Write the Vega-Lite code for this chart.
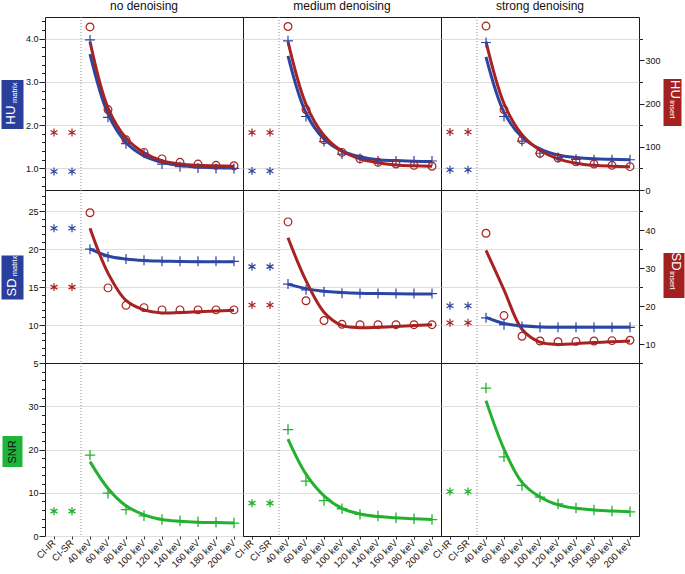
{
"$schema":"https://vega.github.io/schema/vega-lite/v6.json",
"background":"white",
"padding":{"left":-24,"top":-1,"right":0,"bottom":0},
"autosize":{"type":"pad"},
"config":{"view":{"stroke":"#1a1a1a","strokeWidth":1},"font":"Liberation Sans","axis":{"labelFont":"Liberation Sans","titleFont":"Liberation Sans","minExtent":0},"axisY":{"minExtent":0},"axisX":{"minExtent":0},"title":{"font":"Liberation Sans"}},
"columns":3,"spacing":0,"bounds":"flush",
"datasets":{"t":[
{"d":"n","m":"HUm","x":"CI-IR","p":0.93,"f":null},{"d":"n","m":"HUm","x":"CI-SR","p":0.93,"f":null},{"d":"n","m":"HUm","x":"40 keV","p":3.97,"f":3.64},{"d":"n","m":"HUm","x":"60 keV","p":2.18,"f":2.26},{"d":"n","m":"HUm","x":"80 keV","p":1.57,"f":1.6},{"d":"n","m":"HUm","x":"100 keV","p":1.35,"f":1.29},{"d":"n","m":"HUm","x":"120 keV","p":1.1,"f":1.14},{"d":"n","m":"HUm","x":"140 keV","p":1.04,"f":1.065},{"d":"n","m":"HUm","x":"160 keV","p":1.01,"f":1.03},{"d":"n","m":"HUm","x":"180 keV","p":1.0,"f":1.015},{"d":"n","m":"HUm","x":"200 keV","p":1.0,"f":1.007},
{"d":"m","m":"HUm","x":"CI-IR","p":0.94,"f":null},{"d":"m","m":"HUm","x":"CI-SR","p":0.94,"f":null},{"d":"m","m":"HUm","x":"40 keV","p":3.95,"f":3.6},{"d":"m","m":"HUm","x":"60 keV","p":2.2,"f":2.28},{"d":"m","m":"HUm","x":"80 keV","p":1.62,"f":1.68},{"d":"m","m":"HUm","x":"100 keV","p":1.33,"f":1.4},{"d":"m","m":"HUm","x":"120 keV","p":1.23,"f":1.27},{"d":"m","m":"HUm","x":"140 keV","p":1.17,"f":1.2},{"d":"m","m":"HUm","x":"160 keV","p":1.17,"f":1.18},{"d":"m","m":"HUm","x":"180 keV","p":1.17,"f":1.165},{"d":"m","m":"HUm","x":"200 keV","p":1.17,"f":1.16},
{"d":"s","m":"HUm","x":"CI-IR","p":0.97,"f":null},{"d":"s","m":"HUm","x":"CI-SR","p":0.97,"f":null},{"d":"s","m":"HUm","x":"40 keV","p":3.91,"f":3.58},{"d":"s","m":"HUm","x":"60 keV","p":2.2,"f":2.3},{"d":"s","m":"HUm","x":"80 keV","p":1.63,"f":1.72},{"d":"s","m":"HUm","x":"100 keV","p":1.35,"f":1.45},{"d":"s","m":"HUm","x":"120 keV","p":1.25,"f":1.31},{"d":"s","m":"HUm","x":"140 keV","p":1.21,"f":1.25},{"d":"s","m":"HUm","x":"160 keV","p":1.2,"f":1.22},{"d":"s","m":"HUm","x":"180 keV","p":1.2,"f":1.21},{"d":"s","m":"HUm","x":"200 keV","p":1.2,"f":1.2},
{"d":"n","m":"HUi","x":"CI-IR","p":133,"f":null},{"d":"n","m":"HUi","x":"CI-SR","p":133,"f":null},{"d":"n","m":"HUi","x":"40 keV","p":377,"f":343},{"d":"n","m":"HUi","x":"60 keV","p":186,"f":190},{"d":"n","m":"HUi","x":"80 keV","p":116,"f":120},{"d":"n","m":"HUi","x":"100 keV","p":87,"f":86},{"d":"n","m":"HUi","x":"120 keV","p":72,"f":68},{"d":"n","m":"HUi","x":"140 keV","p":64,"f":60},{"d":"n","m":"HUi","x":"160 keV","p":60,"f":57},{"d":"n","m":"HUi","x":"180 keV","p":57,"f":56},{"d":"n","m":"HUi","x":"200 keV","p":56,"f":55},
{"d":"m","m":"HUi","x":"CI-IR","p":133,"f":null},{"d":"m","m":"HUi","x":"CI-SR","p":133,"f":null},{"d":"m","m":"HUi","x":"40 keV","p":378,"f":343},{"d":"m","m":"HUi","x":"60 keV","p":186,"f":198},{"d":"m","m":"HUi","x":"80 keV","p":116,"f":126},{"d":"m","m":"HUi","x":"100 keV","p":87,"f":90},{"d":"m","m":"HUi","x":"120 keV","p":72,"f":72},{"d":"m","m":"HUi","x":"140 keV","p":64,"f":63},{"d":"m","m":"HUi","x":"160 keV","p":60,"f":58},{"d":"m","m":"HUi","x":"180 keV","p":57,"f":56},{"d":"m","m":"HUi","x":"200 keV","p":55,"f":55},
{"d":"s","m":"HUi","x":"CI-IR","p":134,"f":null},{"d":"s","m":"HUi","x":"CI-SR","p":134,"f":null},{"d":"s","m":"HUi","x":"40 keV","p":379,"f":343},{"d":"s","m":"HUi","x":"60 keV","p":186,"f":200},{"d":"s","m":"HUi","x":"80 keV","p":116,"f":128},{"d":"s","m":"HUi","x":"100 keV","p":85,"f":92},{"d":"s","m":"HUi","x":"120 keV","p":74,"f":72},{"d":"s","m":"HUi","x":"140 keV","p":65,"f":62},{"d":"s","m":"HUi","x":"160 keV","p":60,"f":57},{"d":"s","m":"HUi","x":"180 keV","p":57,"f":55},{"d":"s","m":"HUi","x":"200 keV","p":54,"f":54},
{"d":"n","m":"SDm","x":"CI-IR","p":22.76,"f":null},{"d":"n","m":"SDm","x":"CI-SR","p":22.76,"f":null},{"d":"n","m":"SDm","x":"40 keV","p":20.0,"f":20.05},{"d":"n","m":"SDm","x":"60 keV","p":19.0,"f":19.1},{"d":"n","m":"SDm","x":"80 keV","p":18.7,"f":18.7},{"d":"n","m":"SDm","x":"100 keV","p":18.55,"f":18.5},{"d":"n","m":"SDm","x":"120 keV","p":18.4,"f":18.42},{"d":"n","m":"SDm","x":"140 keV","p":18.4,"f":18.38},{"d":"n","m":"SDm","x":"160 keV","p":18.4,"f":18.36},{"d":"n","m":"SDm","x":"180 keV","p":18.4,"f":18.35},{"d":"n","m":"SDm","x":"200 keV","p":18.4,"f":18.35},
{"d":"m","m":"SDm","x":"CI-IR","p":17.7,"f":null},{"d":"m","m":"SDm","x":"CI-SR","p":17.7,"f":null},{"d":"m","m":"SDm","x":"40 keV","p":15.4,"f":15.4},{"d":"m","m":"SDm","x":"60 keV","p":14.64,"f":14.8},{"d":"m","m":"SDm","x":"80 keV","p":14.4,"f":14.45},{"d":"m","m":"SDm","x":"100 keV","p":14.2,"f":14.3},{"d":"m","m":"SDm","x":"120 keV","p":14.15,"f":14.2},{"d":"m","m":"SDm","x":"140 keV","p":14.15,"f":14.15},{"d":"m","m":"SDm","x":"160 keV","p":14.15,"f":14.12},{"d":"m","m":"SDm","x":"180 keV","p":14.15,"f":14.1},{"d":"m","m":"SDm","x":"200 keV","p":14.15,"f":14.1},
{"d":"s","m":"SDm","x":"CI-IR","p":12.55,"f":null},{"d":"s","m":"SDm","x":"CI-SR","p":12.55,"f":null},{"d":"s","m":"SDm","x":"40 keV","p":10.95,"f":11.0},{"d":"s","m":"SDm","x":"60 keV","p":10.05,"f":10.2},{"d":"s","m":"SDm","x":"80 keV","p":9.8,"f":9.9},{"d":"s","m":"SDm","x":"100 keV","p":9.7,"f":9.75},{"d":"s","m":"SDm","x":"120 keV","p":9.7,"f":9.7},{"d":"s","m":"SDm","x":"140 keV","p":9.7,"f":9.7},{"d":"s","m":"SDm","x":"160 keV","p":9.7,"f":9.7},{"d":"s","m":"SDm","x":"180 keV","p":9.7,"f":9.7},{"d":"s","m":"SDm","x":"200 keV","p":9.7,"f":9.7},
{"d":"n","m":"SDi","x":"CI-IR","p":25,"f":null},{"d":"n","m":"SDi","x":"CI-SR","p":25,"f":null},{"d":"n","m":"SDi","x":"40 keV","p":44.6,"f":40.5},{"d":"n","m":"SDi","x":"60 keV","p":24.8,"f":28.7},{"d":"n","m":"SDi","x":"80 keV","p":20.2,"f":21.5},{"d":"n","m":"SDi","x":"100 keV","p":19.6,"f":19.0},{"d":"n","m":"SDi","x":"120 keV","p":19.0,"f":18.2},{"d":"n","m":"SDi","x":"140 keV","p":19.0,"f":18.3},{"d":"n","m":"SDi","x":"160 keV","p":19.0,"f":18.5},{"d":"n","m":"SDi","x":"180 keV","p":19.0,"f":18.7},{"d":"n","m":"SDi","x":"200 keV","p":19.0,"f":18.9},
{"d":"m","m":"SDi","x":"CI-IR","p":20.3,"f":null},{"d":"m","m":"SDi","x":"CI-SR","p":20.3,"f":null},{"d":"m","m":"SDi","x":"40 keV","p":42.2,"f":38.0},{"d":"m","m":"SDi","x":"60 keV","p":21.4,"f":26.7},{"d":"m","m":"SDi","x":"80 keV","p":16.2,"f":18.4},{"d":"m","m":"SDi","x":"100 keV","p":15.2,"f":14.9},{"d":"m","m":"SDi","x":"120 keV","p":15.1,"f":14.3},{"d":"m","m":"SDi","x":"140 keV","p":15.1,"f":14.4},{"d":"m","m":"SDi","x":"160 keV","p":15.1,"f":14.6},{"d":"m","m":"SDi","x":"180 keV","p":15.1,"f":14.9},{"d":"m","m":"SDi","x":"200 keV","p":15.1,"f":15.1},
{"d":"s","m":"SDi","x":"CI-IR","p":15.6,"f":null},{"d":"s","m":"SDi","x":"CI-SR","p":15.6,"f":null},{"d":"s","m":"SDi","x":"40 keV","p":39.2,"f":34.7},{"d":"s","m":"SDi","x":"60 keV","p":17.5,"f":24.3},{"d":"s","m":"SDi","x":"80 keV","p":12.05,"f":13.9},{"d":"s","m":"SDi","x":"100 keV","p":10.8,"f":10.5},{"d":"s","m":"SDi","x":"120 keV","p":10.6,"f":9.9},{"d":"s","m":"SDi","x":"140 keV","p":10.7,"f":10.1},{"d":"s","m":"SDi","x":"160 keV","p":10.8,"f":10.4},{"d":"s","m":"SDi","x":"180 keV","p":10.9,"f":10.6},{"d":"s","m":"SDi","x":"200 keV","p":11.0,"f":10.8},
{"d":"n","m":"SNR","x":"CI-IR","p":5.75,"f":null},{"d":"n","m":"SNR","x":"CI-SR","p":5.75,"f":null},{"d":"n","m":"SNR","x":"40 keV","p":18.7,"f":17.2},{"d":"n","m":"SNR","x":"60 keV","p":9.9,"f":11.0},{"d":"n","m":"SNR","x":"80 keV","p":6.1,"f":7.0},{"d":"n","m":"SNR","x":"100 keV","p":4.67,"f":4.9},{"d":"n","m":"SNR","x":"120 keV","p":3.8,"f":3.8},{"d":"n","m":"SNR","x":"140 keV","p":3.5,"f":3.4},{"d":"n","m":"SNR","x":"160 keV","p":3.3,"f":3.2},{"d":"n","m":"SNR","x":"180 keV","p":3.2,"f":3.1},{"d":"n","m":"SNR","x":"200 keV","p":3.0,"f":3.0},
{"d":"m","m":"SNR","x":"CI-IR","p":7.6,"f":null},{"d":"m","m":"SNR","x":"CI-SR","p":7.6,"f":null},{"d":"m","m":"SNR","x":"40 keV","p":24.6,"f":22.4},{"d":"m","m":"SNR","x":"60 keV","p":12.7,"f":14.3},{"d":"m","m":"SNR","x":"80 keV","p":8.2,"f":9.3},{"d":"m","m":"SNR","x":"100 keV","p":6.3,"f":6.4},{"d":"m","m":"SNR","x":"120 keV","p":5.0,"f":5.1},{"d":"m","m":"SNR","x":"140 keV","p":4.6,"f":4.5},{"d":"m","m":"SNR","x":"160 keV","p":4.2,"f":4.2},{"d":"m","m":"SNR","x":"180 keV","p":4.0,"f":4.0},{"d":"m","m":"SNR","x":"200 keV","p":3.8,"f":3.8},
{"d":"s","m":"SNR","x":"CI-IR","p":10.3,"f":null},{"d":"s","m":"SNR","x":"CI-SR","p":10.3,"f":null},{"d":"s","m":"SNR","x":"40 keV","p":34.2,"f":31.3},{"d":"s","m":"SNR","x":"60 keV","p":18.3,"f":20.1},{"d":"s","m":"SNR","x":"80 keV","p":11.7,"f":12.4},{"d":"s","m":"SNR","x":"100 keV","p":9.0,"f":9.0},{"d":"s","m":"SNR","x":"120 keV","p":7.4,"f":7.2},{"d":"s","m":"SNR","x":"140 keV","p":6.5,"f":6.4},{"d":"s","m":"SNR","x":"160 keV","p":6.0,"f":6.0},{"d":"s","m":"SNR","x":"180 keV","p":5.8,"f":5.8},{"d":"s","m":"SNR","x":"200 keV","p":5.6,"f":5.6}
]},
"concat":[
{"width":198,"height":173,
"title":{"text":"no denoising","frame":"group","anchor":"middle","offset":-5,"baseline":"alphabetic","fontSize":12,"fontWeight":"normal","color":"#111"},
"data":{"name":"t"},"transform":[{"filter":"datum.d==='n'"}],
"encoding":{"x":{"field":"x","type":"nominal","scale":{"type":"band","domain":["CI-IR","CI-SR","40 keV","60 keV","80 keV","100 keV","120 keV","140 keV","160 keV","180 keV","200 keV"],"paddingInner":0,"paddingOuter":0},"axis":null,"bandPosition":0.5}},
"layer":[
{"transform":[{"filter":"datum.m==='HUm' && datum.x==='40 keV'"}],"mark":{"type":"rule","color":"#8c8c8c","strokeDash":[1,2],"strokeWidth":1},"encoding":{"x":{"field":"x","type":"nominal","axis":null,"bandPosition":0}}},
{"transform":[{"filter":"datum.m==='HUm'"}],"mark":{"type":"line","color":"#2c45a2","strokeWidth":3,"interpolate":"catmull-rom"},"encoding":{"y":{"field":"f","type":"quantitative","scale":{"domain":[0.5,4.5],"nice":false,"zero":false},"axis":{"orient":"left","minExtent":0,"values":[0.6,0.8,1,1.2,1.4,1.6,1.8,2,2.2,2.4,2.6,2.8,3,3.2,3.4,3.6,3.8,4,4.2,4.4],"labelExpr":"datum.value % 1 === 0 ? format(datum.value, '.1f') : ''","labelOverlap":false,"labelFontSize":9,"labelColor":"#111","labelPadding":1,"tickColor":"#222","tickSize":{"condition":{"test":"datum.value % 1 === 0","value":6},"value":3.5},"grid":true,"gridColor":"#dddddd","gridOpacity":{"condition":{"test":"datum.value % 1 === 0","value":1},"value":0},"domain":false,"title":null}}}},
{"transform":[{"filter":"datum.m==='HUi'"}],"mark":{"type":"line","color":"#a62322","strokeWidth":3,"interpolate":"catmull-rom"},"encoding":{"y":{"field":"f","type":"quantitative","scale":{"domain":[0,400],"nice":false,"zero":false},"axis":{"orient":"left","minExtent":0,"offset":22,"values":[200],"tickSize":22,"tickWidth":49,"tickColor":"#2a3f9c","tickCap":"butt","labels":false,"domain":false,"grid":false,"title":"HU","titleColor":"#ffffff","titleFontSize":13,"titleFontWeight":"normal","titleAngle":-90,"titleAlign":"center","titleBaseline":"middle","titleX":-12.7,"titleY":97.5}}}},
{"transform":[{"filter":"datum.m==='HUm'"}],"mark":{"type":"point","filled":false,"strokeWidth":1.2,"color":"#2c45a2","opacity":1},"encoding":{"y":{"field":"p","type":"quantitative","scale":{"domain":[0.5,4.5],"nice":false,"zero":false},"axis":null},"shape":{"condition":{"test":"datum.x==='CI-IR'||datum.x==='CI-SR'","value":"M0,-1V1M-0.87,-0.5L0.87,0.5M-0.87,0.5L0.87,-0.5"},"value":"M-1,0H1M0,-1V1"},"size":{"condition":{"test":"datum.x==='CI-IR'||datum.x==='CI-SR'","value":64},"value":100}}},
{"transform":[{"filter":"datum.m==='HUi'"}],"mark":{"type":"point","filled":false,"strokeWidth":1.2,"color":"#a62322","opacity":1},"encoding":{"y":{"field":"p","type":"quantitative","scale":{"domain":[0,400],"nice":false,"zero":false},"axis":{"orient":"left","minExtent":0,"offset":22,"values":[200],"ticks":false,"labels":false,"domain":false,"grid":false,"zindex":1,"title":"matrix","titleColor":"#ffffff","titleFontSize":7.5,"titleFontWeight":"normal","titleAngle":-90,"titleAlign":"center","titleBaseline":"middle","titleX":-9,"titleY":75.3}},"shape":{"condition":{"test":"datum.x==='CI-IR'||datum.x==='CI-SR'","value":"M0,-1V1M-0.87,-0.5L0.87,0.5M-0.87,0.5L0.87,-0.5"},"value":"circle"},"size":{"condition":{"test":"datum.x==='CI-IR'||datum.x==='CI-SR'","value":64},"value":60}}}
],
"resolve":{"scale":{"y":"independent"}}},

{"width":198,"height":173,
"title":{"text":"medium denoising","frame":"group","anchor":"middle","offset":-5,"baseline":"alphabetic","fontSize":12,"fontWeight":"normal","color":"#111"},
"data":{"name":"t"},"transform":[{"filter":"datum.d==='m'"}],
"encoding":{"x":{"field":"x","type":"nominal","scale":{"type":"band","domain":["CI-IR","CI-SR","40 keV","60 keV","80 keV","100 keV","120 keV","140 keV","160 keV","180 keV","200 keV"],"paddingInner":0,"paddingOuter":0},"axis":null,"bandPosition":0.5}},
"layer":[
{"transform":[{"filter":"datum.m==='HUm' && datum.x==='40 keV'"}],"mark":{"type":"rule","color":"#8c8c8c","strokeDash":[1,2],"strokeWidth":1},"encoding":{"x":{"field":"x","type":"nominal","axis":null,"bandPosition":0}}},
{"transform":[{"filter":"datum.m==='HUm'"}],"mark":{"type":"line","color":"#2c45a2","strokeWidth":3,"interpolate":"catmull-rom"},"encoding":{"y":{"field":"f","type":"quantitative","scale":{"domain":[0.5,4.5],"nice":false,"zero":false},"axis":{"orient":"left","minExtent":0,"values":[1,2,3,4],"grid":true,"gridColor":"#dddddd","labels":false,"ticks":false,"domain":false,"title":null}}}},
{"transform":[{"filter":"datum.m==='HUi'"}],"mark":{"type":"line","color":"#a62322","strokeWidth":3,"interpolate":"catmull-rom"},"encoding":{"y":{"field":"f","type":"quantitative","scale":{"domain":[0,400],"nice":false,"zero":false},"axis":null}}},
{"transform":[{"filter":"datum.m==='HUm'"}],"mark":{"type":"point","filled":false,"strokeWidth":1.2,"color":"#2c45a2","opacity":1},"encoding":{"y":{"field":"p","type":"quantitative","scale":{"domain":[0.5,4.5],"nice":false,"zero":false},"axis":null},"shape":{"condition":{"test":"datum.x==='CI-IR'||datum.x==='CI-SR'","value":"M0,-1V1M-0.87,-0.5L0.87,0.5M-0.87,0.5L0.87,-0.5"},"value":"M-1,0H1M0,-1V1"},"size":{"condition":{"test":"datum.x==='CI-IR'||datum.x==='CI-SR'","value":64},"value":100}}},
{"transform":[{"filter":"datum.m==='HUi'"}],"mark":{"type":"point","filled":false,"strokeWidth":1.2,"color":"#a62322","opacity":1},"encoding":{"y":{"field":"p","type":"quantitative","scale":{"domain":[0,400],"nice":false,"zero":false},"axis":null},"shape":{"condition":{"test":"datum.x==='CI-IR'||datum.x==='CI-SR'","value":"M0,-1V1M-0.87,-0.5L0.87,0.5M-0.87,0.5L0.87,-0.5"},"value":"circle"},"size":{"condition":{"test":"datum.x==='CI-IR'||datum.x==='CI-SR'","value":64},"value":60}}}
],
"resolve":{"scale":{"y":"independent"}}},

{"width":198,"height":173,
"title":{"text":"strong denoising","frame":"group","anchor":"middle","offset":-5,"baseline":"alphabetic","fontSize":12,"fontWeight":"normal","color":"#111"},
"data":{"name":"t"},"transform":[{"filter":"datum.d==='s'"}],
"encoding":{"x":{"field":"x","type":"nominal","scale":{"type":"band","domain":["CI-IR","CI-SR","40 keV","60 keV","80 keV","100 keV","120 keV","140 keV","160 keV","180 keV","200 keV"],"paddingInner":0,"paddingOuter":0},"axis":null,"bandPosition":0.5}},
"layer":[
{"transform":[{"filter":"datum.m==='HUm' && datum.x==='40 keV'"}],"mark":{"type":"rule","color":"#8c8c8c","strokeDash":[1,2],"strokeWidth":1},"encoding":{"x":{"field":"x","type":"nominal","axis":null,"bandPosition":0}}},
{"transform":[{"filter":"datum.m==='HUm'"}],"mark":{"type":"line","color":"#2c45a2","strokeWidth":3,"interpolate":"catmull-rom"},"encoding":{"y":{"field":"f","type":"quantitative","scale":{"domain":[0.5,4.5],"nice":false,"zero":false},"axis":{"orient":"right","minExtent":0,"offset":24,"values":[2.546],"ticks":false,"labels":false,"domain":false,"grid":false,"zindex":1,"title":"insert","titleColor":"#ffffff","titleFontSize":7.5,"titleFontWeight":"normal","titleAngle":90,"titleAlign":"center","titleBaseline":"middle","titleX":8,"titleY":92}}}},
{"transform":[{"filter":"datum.m==='HUi'"}],"mark":{"type":"line","color":"#a62322","strokeWidth":3,"interpolate":"catmull-rom"},"encoding":{"y":{"field":"f","type":"quantitative","scale":{"domain":[0,400],"nice":false,"zero":false},"axis":{"orient":"right","minExtent":0,"values":[0,50,100,150,200,250,300,350],"labelExpr":"datum.value % 100 === 0 ? datum.label : ''","labelOverlap":false,"labelFontSize":9,"labelColor":"#111","labelPadding":1,"tickColor":"#222","tickSize":{"condition":{"test":"datum.value % 100 === 0","value":5},"value":3.5},"grid":true,"gridColor":"#dddddd","gridOpacity":{"condition":{"test":"datum.value % 100 === 50","value":1},"value":0},"domain":false,"title":null}}}},
{"transform":[{"filter":"datum.m==='HUm'"}],"mark":{"type":"point","filled":false,"strokeWidth":1.2,"color":"#2c45a2","opacity":1},"encoding":{"y":{"field":"p","type":"quantitative","scale":{"domain":[0.5,4.5],"nice":false,"zero":false},"axis":{"orient":"right","minExtent":0,"offset":24,"values":[2.546],"tickSize":18,"tickWidth":47,"tickColor":"#a32020","tickCap":"butt","labels":false,"domain":false,"grid":false,"title":"HU","titleColor":"#ffffff","titleFontSize":13,"titleFontWeight":"normal","titleAngle":90,"titleAlign":"center","titleBaseline":"middle","titleX":11,"titleY":72}},"shape":{"condition":{"test":"datum.x==='CI-IR'||datum.x==='CI-SR'","value":"M0,-1V1M-0.87,-0.5L0.87,0.5M-0.87,0.5L0.87,-0.5"},"value":"M-1,0H1M0,-1V1"},"size":{"condition":{"test":"datum.x==='CI-IR'||datum.x==='CI-SR'","value":64},"value":100}}},
{"transform":[{"filter":"datum.m==='HUi'"}],"mark":{"type":"point","filled":false,"strokeWidth":1.2,"color":"#a62322","opacity":1},"encoding":{"y":{"field":"p","type":"quantitative","scale":{"domain":[0,400],"nice":false,"zero":false},"axis":null},"shape":{"condition":{"test":"datum.x==='CI-IR'||datum.x==='CI-SR'","value":"M0,-1V1M-0.87,-0.5L0.87,0.5M-0.87,0.5L0.87,-0.5"},"value":"circle"},"size":{"condition":{"test":"datum.x==='CI-IR'||datum.x==='CI-SR'","value":64},"value":60}}}
],
"resolve":{"scale":{"y":"independent"}}},

{"width":198,"height":173,
"data":{"name":"t"},"transform":[{"filter":"datum.d==='n'"}],
"encoding":{"x":{"field":"x","type":"nominal","scale":{"type":"band","domain":["CI-IR","CI-SR","40 keV","60 keV","80 keV","100 keV","120 keV","140 keV","160 keV","180 keV","200 keV"],"paddingInner":0,"paddingOuter":0},"axis":null,"bandPosition":0.5}},
"layer":[
{"transform":[{"filter":"datum.m==='SDm' && datum.x==='40 keV'"}],"mark":{"type":"rule","color":"#8c8c8c","strokeDash":[1,2],"strokeWidth":1},"encoding":{"x":{"field":"x","type":"nominal","axis":null,"bandPosition":0}}},
{"transform":[{"filter":"datum.m==='SDm'"}],"mark":{"type":"line","color":"#2c45a2","strokeWidth":3,"interpolate":"catmull-rom"},"encoding":{"y":{"field":"f","type":"quantitative","scale":{"domain":[5,27.8],"nice":false,"zero":false},"axis":{"orient":"left","minExtent":0,"values":[5,6,7,8,9,10,11,12,13,14,15,16,17,18,19,20,21,22,23,24,25,26,27],"labelExpr":"datum.value % 5 === 0 ? datum.label : ''","labelOverlap":false,"labelFontSize":9,"labelColor":"#111","labelPadding":1,"tickColor":"#222","tickSize":{"condition":{"test":"datum.value % 5 === 0","value":6},"value":3.5},"grid":true,"gridColor":"#dddddd","gridOpacity":{"condition":{"test":"datum.value % 5 === 0","value":1},"value":0},"domain":false,"title":null}}}},
{"transform":[{"filter":"datum.m==='SDi'"}],"mark":{"type":"line","color":"#a62322","strokeWidth":3,"interpolate":"catmull-rom"},"encoding":{"y":{"field":"f","type":"quantitative","scale":{"domain":[5,50.6],"nice":false,"zero":false},"axis":{"orient":"left","minExtent":0,"offset":22,"values":[27.67],"tickSize":22,"tickWidth":44,"tickColor":"#2a3f9c","tickCap":"butt","labels":false,"domain":false,"grid":false,"title":"SD","titleColor":"#ffffff","titleFontSize":13,"titleFontWeight":"normal","titleAngle":-90,"titleAlign":"center","titleBaseline":"middle","titleX":-12,"titleY":97}}}},
{"transform":[{"filter":"datum.m==='SDm'"}],"mark":{"type":"point","filled":false,"strokeWidth":1.2,"color":"#2c45a2","opacity":1},"encoding":{"y":{"field":"p","type":"quantitative","scale":{"domain":[5,27.8],"nice":false,"zero":false},"axis":null},"shape":{"condition":{"test":"datum.x==='CI-IR'||datum.x==='CI-SR'","value":"M0,-1V1M-0.87,-0.5L0.87,0.5M-0.87,0.5L0.87,-0.5"},"value":"M-1,0H1M0,-1V1"},"size":{"condition":{"test":"datum.x==='CI-IR'||datum.x==='CI-SR'","value":64},"value":100}}},
{"transform":[{"filter":"datum.m==='SDi'"}],"mark":{"type":"point","filled":false,"strokeWidth":1.2,"color":"#a62322","opacity":1},"encoding":{"y":{"field":"p","type":"quantitative","scale":{"domain":[5,50.6],"nice":false,"zero":false},"axis":{"orient":"left","minExtent":0,"offset":22,"values":[27.67],"ticks":false,"labels":false,"domain":false,"grid":false,"zindex":1,"title":"matrix","titleColor":"#ffffff","titleFontSize":7.5,"titleFontWeight":"normal","titleAngle":-90,"titleAlign":"center","titleBaseline":"middle","titleX":-8.5,"titleY":75.5}},"shape":{"condition":{"test":"datum.x==='CI-IR'||datum.x==='CI-SR'","value":"M0,-1V1M-0.87,-0.5L0.87,0.5M-0.87,0.5L0.87,-0.5"},"value":"circle"},"size":{"condition":{"test":"datum.x==='CI-IR'||datum.x==='CI-SR'","value":64},"value":60}}}
],
"resolve":{"scale":{"y":"independent"}}},

{"width":198,"height":173,
"data":{"name":"t"},"transform":[{"filter":"datum.d==='m'"}],
"encoding":{"x":{"field":"x","type":"nominal","scale":{"type":"band","domain":["CI-IR","CI-SR","40 keV","60 keV","80 keV","100 keV","120 keV","140 keV","160 keV","180 keV","200 keV"],"paddingInner":0,"paddingOuter":0},"axis":null,"bandPosition":0.5}},
"layer":[
{"transform":[{"filter":"datum.m==='SDm' && datum.x==='40 keV'"}],"mark":{"type":"rule","color":"#8c8c8c","strokeDash":[1,2],"strokeWidth":1},"encoding":{"x":{"field":"x","type":"nominal","axis":null,"bandPosition":0}}},
{"transform":[{"filter":"datum.m==='SDm'"}],"mark":{"type":"line","color":"#2c45a2","strokeWidth":3,"interpolate":"catmull-rom"},"encoding":{"y":{"field":"f","type":"quantitative","scale":{"domain":[5,27.8],"nice":false,"zero":false},"axis":{"orient":"left","minExtent":0,"values":[10,15,20,25],"grid":true,"gridColor":"#dddddd","labels":false,"ticks":false,"domain":false,"title":null}}}},
{"transform":[{"filter":"datum.m==='SDi'"}],"mark":{"type":"line","color":"#a62322","strokeWidth":3,"interpolate":"catmull-rom"},"encoding":{"y":{"field":"f","type":"quantitative","scale":{"domain":[5,50.6],"nice":false,"zero":false},"axis":null}}},
{"transform":[{"filter":"datum.m==='SDm'"}],"mark":{"type":"point","filled":false,"strokeWidth":1.2,"color":"#2c45a2","opacity":1},"encoding":{"y":{"field":"p","type":"quantitative","scale":{"domain":[5,27.8],"nice":false,"zero":false},"axis":null},"shape":{"condition":{"test":"datum.x==='CI-IR'||datum.x==='CI-SR'","value":"M0,-1V1M-0.87,-0.5L0.87,0.5M-0.87,0.5L0.87,-0.5"},"value":"M-1,0H1M0,-1V1"},"size":{"condition":{"test":"datum.x==='CI-IR'||datum.x==='CI-SR'","value":64},"value":100}}},
{"transform":[{"filter":"datum.m==='SDi'"}],"mark":{"type":"point","filled":false,"strokeWidth":1.2,"color":"#a62322","opacity":1},"encoding":{"y":{"field":"p","type":"quantitative","scale":{"domain":[5,50.6],"nice":false,"zero":false},"axis":null},"shape":{"condition":{"test":"datum.x==='CI-IR'||datum.x==='CI-SR'","value":"M0,-1V1M-0.87,-0.5L0.87,0.5M-0.87,0.5L0.87,-0.5"},"value":"circle"},"size":{"condition":{"test":"datum.x==='CI-IR'||datum.x==='CI-SR'","value":64},"value":60}}}
],
"resolve":{"scale":{"y":"independent"}}},

{"width":198,"height":173,
"data":{"name":"t"},"transform":[{"filter":"datum.d==='s'"}],
"encoding":{"x":{"field":"x","type":"nominal","scale":{"type":"band","domain":["CI-IR","CI-SR","40 keV","60 keV","80 keV","100 keV","120 keV","140 keV","160 keV","180 keV","200 keV"],"paddingInner":0,"paddingOuter":0},"axis":null,"bandPosition":0.5}},
"layer":[
{"transform":[{"filter":"datum.m==='SDm' && datum.x==='40 keV'"}],"mark":{"type":"rule","color":"#8c8c8c","strokeDash":[1,2],"strokeWidth":1},"encoding":{"x":{"field":"x","type":"nominal","axis":null,"bandPosition":0}}},
{"transform":[{"filter":"datum.m==='SDm'"}],"mark":{"type":"line","color":"#2c45a2","strokeWidth":3,"interpolate":"catmull-rom"},"encoding":{"y":{"field":"f","type":"quantitative","scale":{"domain":[5,27.8],"nice":false,"zero":false},"axis":{"orient":"right","minExtent":0,"offset":24,"values":[16.66],"ticks":false,"labels":false,"domain":false,"grid":false,"zindex":1,"title":"insert","titleColor":"#ffffff","titleFontSize":7.5,"titleFontWeight":"normal","titleAngle":90,"titleAlign":"center","titleBaseline":"middle","titleX":8,"titleY":90}}}},
{"transform":[{"filter":"datum.m==='SDi'"}],"mark":{"type":"line","color":"#a62322","strokeWidth":3,"interpolate":"catmull-rom"},"encoding":{"y":{"field":"f","type":"quantitative","scale":{"domain":[5,50.6],"nice":false,"zero":false},"axis":{"orient":"right","minExtent":0,"values":[5,10,15,20,25,30,35,40,45],"labelExpr":"datum.value % 10 === 0 ? datum.label : ''","labelOverlap":false,"labelFontSize":9,"labelColor":"#111","labelPadding":1,"tickColor":"#222","tickSize":{"condition":{"test":"datum.value % 10 === 0","value":5},"value":3.5},"grid":true,"gridColor":"#dddddd","gridOpacity":{"condition":{"test":"datum.value % 10 === 5","value":1},"value":0},"domain":false,"title":null}}}},
{"transform":[{"filter":"datum.m==='SDm'"}],"mark":{"type":"point","filled":false,"strokeWidth":1.2,"color":"#2c45a2","opacity":1},"encoding":{"y":{"field":"p","type":"quantitative","scale":{"domain":[5,27.8],"nice":false,"zero":false},"axis":{"orient":"right","minExtent":0,"offset":24,"values":[16.66],"tickSize":21,"tickWidth":45,"tickColor":"#a32020","tickCap":"butt","labels":false,"domain":false,"grid":false,"title":"SD","titleColor":"#ffffff","titleFontSize":13,"titleFontWeight":"normal","titleAngle":90,"titleAlign":"center","titleBaseline":"middle","titleX":12,"titleY":71}},"shape":{"condition":{"test":"datum.x==='CI-IR'||datum.x==='CI-SR'","value":"M0,-1V1M-0.87,-0.5L0.87,0.5M-0.87,0.5L0.87,-0.5"},"value":"M-1,0H1M0,-1V1"},"size":{"condition":{"test":"datum.x==='CI-IR'||datum.x==='CI-SR'","value":64},"value":100}}},
{"transform":[{"filter":"datum.m==='SDi'"}],"mark":{"type":"point","filled":false,"strokeWidth":1.2,"color":"#a62322","opacity":1},"encoding":{"y":{"field":"p","type":"quantitative","scale":{"domain":[5,50.6],"nice":false,"zero":false},"axis":null},"shape":{"condition":{"test":"datum.x==='CI-IR'||datum.x==='CI-SR'","value":"M0,-1V1M-0.87,-0.5L0.87,0.5M-0.87,0.5L0.87,-0.5"},"value":"circle"},"size":{"condition":{"test":"datum.x==='CI-IR'||datum.x==='CI-SR'","value":64},"value":60}}}
],
"resolve":{"scale":{"y":"independent"}}},

{"width":198,"height":173,
"data":{"name":"t"},"transform":[{"filter":"datum.d==='n' && datum.m==='SNR'"}],
"encoding":{"x":{"field":"x","type":"nominal","scale":{"type":"band","domain":["CI-IR","CI-SR","40 keV","60 keV","80 keV","100 keV","120 keV","140 keV","160 keV","180 keV","200 keV"],"paddingInner":0,"paddingOuter":0},"axis":{"minExtent":0,"labelAngle":-45,"labelAlign":"right","labelBaseline":"middle","labelFontSize":9.5,"labelColor":"#111","labelOverlap":false,"labelPadding":2,"tickSize":3,"tickColor":"#333","domain":false,"grid":false,"title":null},"bandPosition":0.5}},
"layer":[
{"transform":[{"filter":"datum.x==='40 keV'"}],"mark":{"type":"rule","color":"#8c8c8c","strokeDash":[1,2],"strokeWidth":1},"encoding":{"x":{"field":"x","type":"nominal","axis":{"minExtent":0,"labelAngle":-45,"labelAlign":"right","labelBaseline":"middle","labelFontSize":9.5,"labelColor":"#111","labelOverlap":false,"labelPadding":2,"tickSize":3,"tickColor":"#333","domain":false,"grid":false,"title":null},"bandPosition":0}}},
{"mark":{"type":"line","color":"#23b12f","strokeWidth":3,"interpolate":"catmull-rom"},"encoding":{"y":{"field":"f","type":"quantitative","scale":{"domain":[0,40],"nice":false,"zero":false},"axis":{"orient":"left","minExtent":0,"values":[0,2,4,6,8,10,12,14,16,18,20,22,24,26,28,30,32,34,36,38],"labelExpr":"datum.value % 10 === 0 ? datum.label : ''","labelOverlap":false,"labelFontSize":9,"labelColor":"#111","labelPadding":1,"tickColor":"#222","tickSize":{"condition":{"test":"datum.value % 10 === 0","value":6},"value":3.5},"grid":true,"gridColor":"#dddddd","gridOpacity":{"condition":{"test":"datum.value % 10 === 0","value":1},"value":0},"domain":false,"title":null}}}},
{"mark":{"type":"point","filled":false,"strokeWidth":1.3,"color":"#23b12f","opacity":1},"encoding":{"y":{"field":"p","type":"quantitative","scale":{"domain":[0,40],"nice":false,"zero":false},"axis":{"orient":"left","minExtent":0,"offset":23,"values":[19.54],"tickSize":20,"tickWidth":31,"tickColor":"#1eb53a","tickCap":"butt","labels":false,"domain":false,"grid":false,"title":"SNR","titleColor":"#111111","titleFontSize":11,"titleFontWeight":"normal","titleAngle":-90,"titleAlign":"center","titleBaseline":"middle","titleX":-10,"titleY":88.5}},"shape":{"condition":{"test":"datum.x==='CI-IR'||datum.x==='CI-SR'","value":"M0,-1V1M-0.87,-0.5L0.87,0.5M-0.87,0.5L0.87,-0.5"},"value":"M-1,0H1M0,-1V1"},"size":{"condition":{"test":"datum.x==='CI-IR'||datum.x==='CI-SR'","value":64},"value":110}}}
],
"resolve":{"scale":{"y":"independent"}}},

{"width":198,"height":173,
"data":{"name":"t"},"transform":[{"filter":"datum.d==='m' && datum.m==='SNR'"}],
"encoding":{"x":{"field":"x","type":"nominal","scale":{"type":"band","domain":["CI-IR","CI-SR","40 keV","60 keV","80 keV","100 keV","120 keV","140 keV","160 keV","180 keV","200 keV"],"paddingInner":0,"paddingOuter":0},"axis":{"minExtent":0,"labelAngle":-45,"labelAlign":"right","labelBaseline":"middle","labelFontSize":9.5,"labelColor":"#111","labelOverlap":false,"labelPadding":2,"tickSize":3,"tickColor":"#333","domain":false,"grid":false,"title":null},"bandPosition":0.5}},
"layer":[
{"transform":[{"filter":"datum.x==='40 keV'"}],"mark":{"type":"rule","color":"#8c8c8c","strokeDash":[1,2],"strokeWidth":1},"encoding":{"x":{"field":"x","type":"nominal","axis":{"minExtent":0,"labelAngle":-45,"labelAlign":"right","labelBaseline":"middle","labelFontSize":9.5,"labelColor":"#111","labelOverlap":false,"labelPadding":2,"tickSize":3,"tickColor":"#333","domain":false,"grid":false,"title":null},"bandPosition":0}}},
{"mark":{"type":"line","color":"#23b12f","strokeWidth":3,"interpolate":"catmull-rom"},"encoding":{"y":{"field":"f","type":"quantitative","scale":{"domain":[0,40],"nice":false,"zero":false},"axis":{"orient":"left","minExtent":0,"values":[10,20,30],"grid":true,"gridColor":"#dddddd","labels":false,"ticks":false,"domain":false,"title":null}}}},
{"mark":{"type":"point","filled":false,"strokeWidth":1.3,"color":"#23b12f","opacity":1},"encoding":{"y":{"field":"p","type":"quantitative","scale":{"domain":[0,40],"nice":false,"zero":false},"axis":null},"shape":{"condition":{"test":"datum.x==='CI-IR'||datum.x==='CI-SR'","value":"M0,-1V1M-0.87,-0.5L0.87,0.5M-0.87,0.5L0.87,-0.5"},"value":"M-1,0H1M0,-1V1"},"size":{"condition":{"test":"datum.x==='CI-IR'||datum.x==='CI-SR'","value":64},"value":110}}}
],
"resolve":{"scale":{"y":"independent"}}},

{"width":198,"height":173,
"data":{"name":"t"},"transform":[{"filter":"datum.d==='s' && datum.m==='SNR'"}],
"encoding":{"x":{"field":"x","type":"nominal","scale":{"type":"band","domain":["CI-IR","CI-SR","40 keV","60 keV","80 keV","100 keV","120 keV","140 keV","160 keV","180 keV","200 keV"],"paddingInner":0,"paddingOuter":0},"axis":{"minExtent":0,"labelAngle":-45,"labelAlign":"right","labelBaseline":"middle","labelFontSize":9.5,"labelColor":"#111","labelOverlap":false,"labelPadding":2,"tickSize":3,"tickColor":"#333","domain":false,"grid":false,"title":null},"bandPosition":0.5}},
"layer":[
{"transform":[{"filter":"datum.x==='40 keV'"}],"mark":{"type":"rule","color":"#8c8c8c","strokeDash":[1,2],"strokeWidth":1},"encoding":{"x":{"field":"x","type":"nominal","axis":{"minExtent":0,"labelAngle":-45,"labelAlign":"right","labelBaseline":"middle","labelFontSize":9.5,"labelColor":"#111","labelOverlap":false,"labelPadding":2,"tickSize":3,"tickColor":"#333","domain":false,"grid":false,"title":null},"bandPosition":0}}},
{"mark":{"type":"line","color":"#23b12f","strokeWidth":3,"interpolate":"catmull-rom"},"encoding":{"y":{"field":"f","type":"quantitative","scale":{"domain":[0,40],"nice":false,"zero":false},"axis":{"orient":"left","minExtent":0,"values":[10,20,30],"grid":true,"gridColor":"#dddddd","labels":false,"ticks":false,"domain":false,"title":null}}}},
{"mark":{"type":"point","filled":false,"strokeWidth":1.3,"color":"#23b12f","opacity":1},"encoding":{"y":{"field":"p","type":"quantitative","scale":{"domain":[0,40],"nice":false,"zero":false},"axis":null},"shape":{"condition":{"test":"datum.x==='CI-IR'||datum.x==='CI-SR'","value":"M0,-1V1M-0.87,-0.5L0.87,0.5M-0.87,0.5L0.87,-0.5"},"value":"M-1,0H1M0,-1V1"},"size":{"condition":{"test":"datum.x==='CI-IR'||datum.x==='CI-SR'","value":64},"value":110}}}
],
"resolve":{"scale":{"y":"independent"}}}
]
}
